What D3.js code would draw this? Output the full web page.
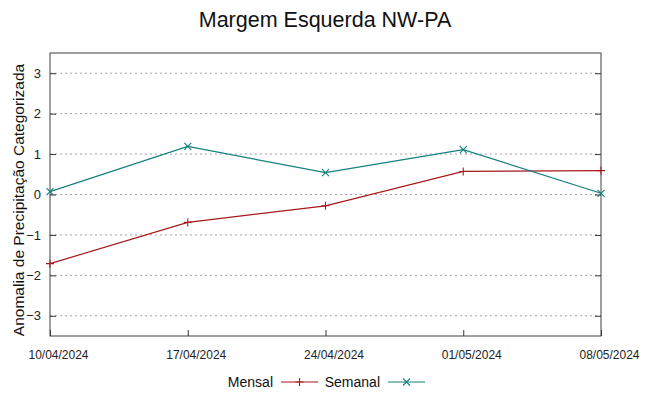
<!DOCTYPE html>
<html><head><meta charset="utf-8">
<script src="https://cdn.jsdelivr.net/npm/d3@7"></script>
<style>body{margin:0;background:#fff;}svg{display:block;font-family:"Liberation Sans",Arial,sans-serif;}</style>
</head><body><div id="chart"></div>
<script>
const dates = ["10/04/2024","17/04/2024","24/04/2024","01/05/2024","08/05/2024"];
const mensal = [-1.71, -0.69, -0.28, 0.57, 0.59];
const semanal = [0.07, 1.19, 0.54, 1.11, 0.03];
const yTicks = [-3,-2,-1,0,1,2,3];
const seriesNames = ["Mensal","Semanal"];
const colors = ["#a8191c","#147f7f"];

const W=649,H=396;
const m={l:50,r:48,t:53,b:60};
const parse=d3.timeParse("%d/%m/%Y");
const svg=d3.select("#chart").append("svg").attr("width",W).attr("height",H);
const x=d3.scaleTime().domain([parse(dates[0]),parse(dates[dates.length-1])]).range([m.l,W-m.r]);
const y=d3.scaleLinear().domain([-3.5,3.5]).range([H-m.b,m.t]);

// grid
svg.append("g").selectAll("line").data(yTicks).join("line")
  .attr("x1",m.l).attr("x2",W-m.r).attr("y1",d=>y(d)).attr("y2",d=>y(d))
  .attr("stroke","#a0a0a0").attr("stroke-width",1).attr("stroke-dasharray","2,3");

// left axis
const yl=svg.append("g").attr("transform",`translate(${m.l},0)`)
  .call(d3.axisLeft(y).tickValues(yTicks).tickSize(-6).tickPadding(9).tickFormat(d3.format("d")));
yl.select(".domain").remove();
yl.selectAll("line").attr("stroke","#333");
yl.selectAll("text").attr("font-size",13).attr("fill","#222").attr("font-family","Liberation Sans, Arial");
// right mirror ticks
const yr=svg.append("g").attr("transform",`translate(${W-m.r},0)`)
  .call(d3.axisRight(y).tickValues(yTicks).tickSize(-6).tickFormat(""));
yr.select(".domain").remove();
yr.selectAll("line").attr("stroke","#333");

// bottom axis
const xb=svg.append("g").attr("transform",`translate(0,${H-m.b})`)
  .call(d3.axisBottom(x).tickValues(dates.map(parse)).tickSize(-6).tickPadding(14).tickFormat(d3.timeFormat("%d/%m/%Y")));
xb.select(".domain").remove();
xb.selectAll("line").attr("stroke","#333");
xb.selectAll("text").attr("font-size",12).attr("fill","#222").attr("dx",8).attr("font-family","Liberation Sans, Arial");

// border
svg.append("rect").attr("x",m.l).attr("y",m.t).attr("width",W-m.l-m.r).attr("height",H-m.t-m.b)
  .attr("fill","none").attr("stroke","#404040").attr("stroke-width",1);

const data=[mensal,semanal];
const line=d3.line().x((d,i)=>x(parse(dates[i]))).y(d=>y(d));
const plus=(g,s)=>{g.append("path").attr("d",`M${-s},0H${s}M0,${-s}V${s}`);};
const cross=(g,s)=>{g.append("path").attr("d",`M${-s},${-s}L${s},${s}M${-s},${s}L${s},${-s}`);};
data.forEach((vals,k)=>{
  svg.append("path").datum(vals).attr("d",line).attr("fill","none").attr("stroke",colors[k]).attr("stroke-width",1.2);
  vals.forEach((v,i)=>{
    const g=svg.append("g").attr("transform",`translate(${x(parse(dates[i]))},${y(v)})`).attr("stroke",colors[k]).attr("stroke-width",1.1);
    if(k===0) plus(g,4); else cross(g,3.5);
  });
});

// title
svg.append("text").attr("x",325).attr("y",27).attr("text-anchor","middle").attr("font-size",21.5).attr("fill","#111").text("Margem Esquerda NW-PA");
// y label
svg.append("text").attr("transform","translate(24,200) rotate(-90)").attr("text-anchor","middle").attr("font-size",15.5).attr("fill","#111").text("Anomalia de Precipitação Categorizada");

// legend
const lg=svg.append("g").attr("font-size",14).attr("fill","#111");
const legX=[273,380];
seriesNames.forEach((n,k)=>{
  lg.append("text").attr("x",legX[k]).attr("y",387).attr("text-anchor","end").text(n);
  const x0=legX[k]+8, x1=x0+37;
  lg.append("line").attr("x1",x0).attr("x2",x1).attr("y1",382).attr("y2",382).attr("stroke",colors[k]).attr("stroke-width",1.2);
  const g=lg.append("g").attr("transform",`translate(${(x0+x1)/2},382)`).attr("stroke",colors[k]).attr("stroke-width",1.1);
  if(k===0) plus(g,4); else cross(g,3.5);
});
</script></body></html>
